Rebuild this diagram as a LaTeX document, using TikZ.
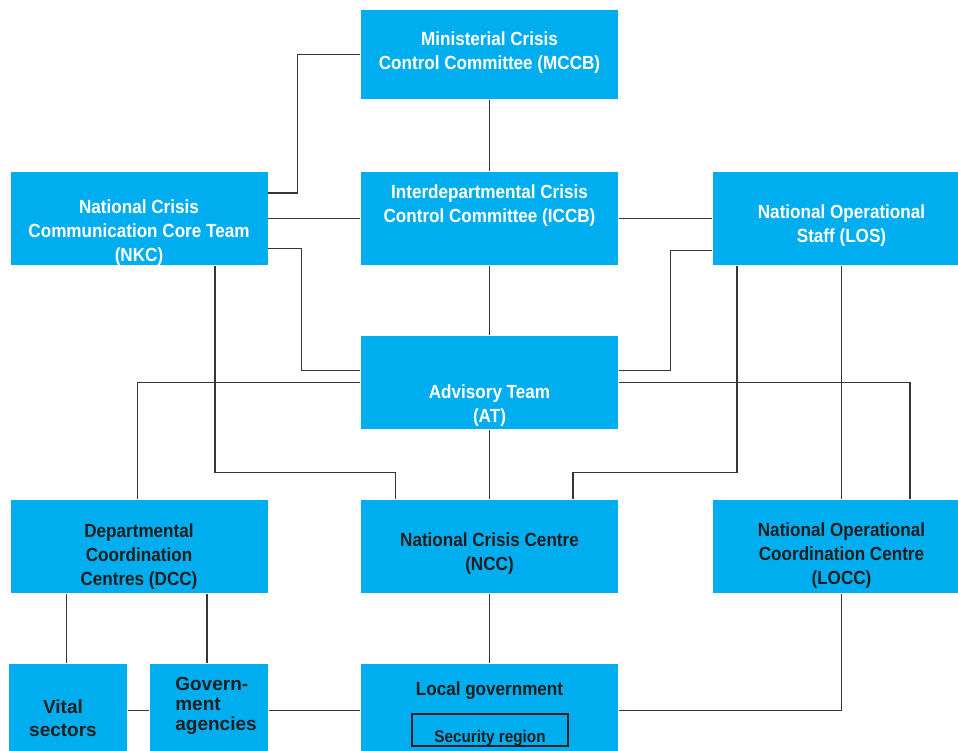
\documentclass[tikz,border=0pt]{standalone}
\usepackage{fontspec}
\setmainfont{Liberation Sans}[FakeStretch=0.9]
\newfontfamily\anchafont{Liberation Sans}
\definecolor{azul}{HTML}{00AEEF}
\definecolor{texto}{HTML}{231F20}
\definecolor{gris}{HTML}{363636}
\begin{document}
\begin{tikzpicture}[x=1pt, y=-1pt, line width=1.3pt,
    caja/.style={fill=azul, minimum width=257pt, minimum height=93pt, inner sep=0pt},
    cajita/.style={caja, minimum width=118pt},
    blanco/.style={text=white, align=center, font=\fontsize{19}{24}\selectfont\bfseries},
    oscuro/.style={text=texto, align=center, font=\fontsize{19}{24}\selectfont\bfseries}]
  \useasboundingbox (0,0) rectangle (958,751);
  % las cajas de arriba, con el texto blanco
  \node[caja, minimum height=89pt, label={[blanco, yshift=1.5pt]center:{Ministerial Crisis\\Control Committee (MCCB)}}] (mccb) at (489.5,54.5) {};
  \node[caja, label={[blanco, yshift=-14pt]center:{National Crisis\\Communication Core Team\\(NKC)}}] (nkc) at (139,218.5) {};
  \node[caja, label={[blanco, yshift=12.5pt]center:{Interdepartmental Crisis\\Control Committee (ICCB)}}] (iccb) at (489.5,218.5) {};
  \node[caja, label={[blanco, yshift=-7pt]center:{National Operational\\Staff (LOS)}}] (los) at (841.5,218.5) {};
  \node[caja, label={[blanco, yshift=-23pt]center:{Advisory Team\\(AT)}}] (at) at (489.5,382.5) {};
  % las cajas de abajo, con el texto oscuro
  \node[caja, label={[oscuro, yshift=-10.5pt]center:{Departmental\\Coordination\\Centres (DCC)}}] (dcc) at (139,546.5) {};
  \node[caja, label={[oscuro, yshift=-7.5pt]center:{National Crisis Centre\\(NCC)}}] (ncc) at (489.5,546.5) {};
  \node[caja, label={[oscuro, yshift=-9pt]center:{National Operational\\Coordination Centre\\(LOCC)}}] (locc) at (841.5,546.5) {};
  \node[cajita, label={[oscuro, font=\anchafont\fontsize{19}{23}\selectfont\bfseries, xshift=-5pt, yshift=-8pt]center:{Vital\\sectors}}] (vital) at (68,710.5) {};
  \node[cajita, label={[oscuro, align=left, font=\anchafont\fontsize{19}{20}\selectfont\bfseries, xshift=7pt, yshift=4.5pt]center:{Govern-\\ment\\agencies}}] (gov) at (209,710.5) {};
  \node[caja, label={[oscuro, yshift=19.5pt]center:{Local government}}] (local) at (489.5,710.5) {};
  \node[draw=texto, line width=1.1pt, minimum width=156pt, minimum height=32pt, inner sep=0pt,
    label={[oscuro, font=\fontsize{17}{20}\selectfont\bfseries, yshift=-8pt]center:{Security region}}] (seguridad) at (490,730) {};
  % las lineas entre las cajas
  \draw[gris] (mccb.south) -- (iccb.north);
  \draw[gris] (mccb.west) -- ++(-63,0) |- ([yshift=25.5pt]nkc.east);
  \draw[gris] (nkc.east) -- (iccb.west);
  \draw[gris] (iccb.east) -- (los.west);
  \draw[gris] (iccb.south) -- (at.north);
  \draw[gris] ([yshift=-30pt]nkc.east) -- ++(33,0) |- ([yshift=12pt]at.west);
  \draw[gris] ([yshift=-32pt]los.west) -- ++(-42,0) |- ([yshift=12pt]at.east);
  \draw[gris] (at.west) -| ([xshift=-1.5pt]dcc.north);
  \draw[gris] (at.east) -| ([xshift=68.5pt]locc.north);
  \draw[gris] ([xshift=76pt]nkc.south) -- ++(0,207) -| ([xshift=-94pt]ncc.north);
  \draw[gris] ([xshift=-104.5pt]los.south) -- ++(0,207) -| ([xshift=83.5pt]ncc.north);
  \draw[gris] (los.south) -- (locc.north);
  \draw[gris] (at.south) -- (ncc.north);
  \draw[gris] (ncc.south) -- (local.north);
  \draw[gris] ([xshift=-1.5pt]vital.north) -- ([xshift=-1.5pt]vital.north |- dcc.south);
  \draw[gris] ([xshift=-2pt]gov.north) -- ([xshift=-2pt]gov.north |- dcc.south);
  \draw[gris] (vital.east) -- (gov.west);
  \draw[gris] (gov.east) -- (local.west);
  \draw[gris] (local.east) -| (locc.south);
\end{tikzpicture}
\end{document}
